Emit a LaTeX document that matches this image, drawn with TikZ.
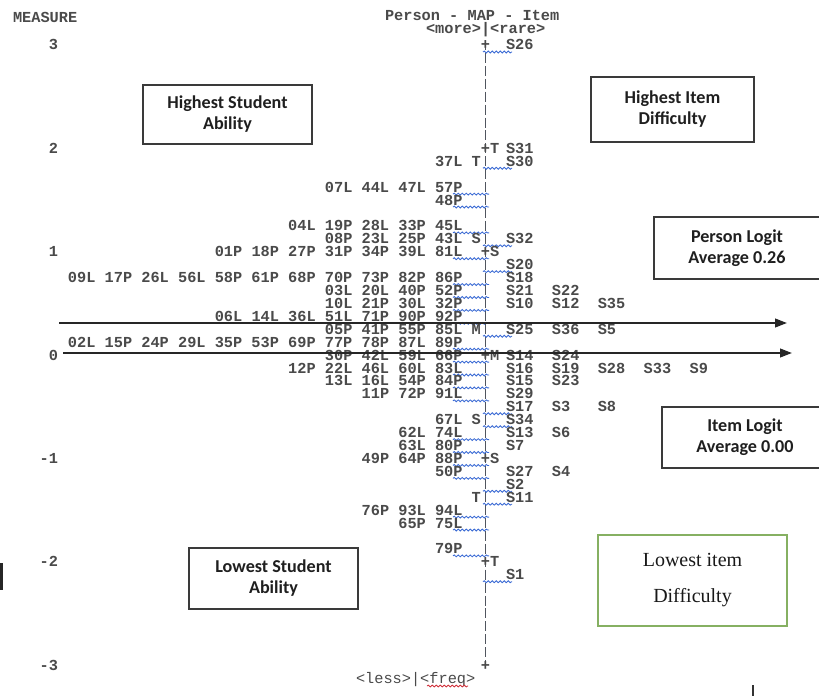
\documentclass[tikz,border=0pt]{standalone}
\usepackage{fontspec}
\setmonofont{Liberation Mono}
\newfontfamily\boxfont{Carlito}
\newfontfamily\serfont{Liberation Serif}
\usetikzlibrary{arrows.meta,decorations.pathmorphing}
\definecolor{txt}{HTML}{4A4A4A}
\definecolor{sqc}{HTML}{3A6AD4}
\definecolor{axc}{HTML}{50555E}
\definecolor{grn}{HTML}{86B062}
\definecolor{boxc}{HTML}{3A3A3A}
\definecolor{redsq}{HTML}{D0303A}

\newcommand\PL[2]{\node[pl] (pl#1) at (462.6,{50+#1*12.92}) {#2};}
\newcommand\ML[2]{\node[mk] (ml#1) at (476.3,{50+#1*12.92}) {#2};}
\newcommand\MR[2]{\node[mk] (mr#1) at (494.7,{50+#1*12.92}) {#2};}
\newcommand\AX[1]{\node[mk] (ax#1) at (485.5,{50+#1*12.92}) {+};}
\newcommand\IT[2]{\foreach \itm [count=\i from 0] in {#2} {\node[it] (it#1-\i) at ({506+\i*45.9},{50+#1*12.92}) {\itm};}}
\newcommand\SQL[1]{\draw[sqs] (453,{52+#1*12.92}) -- (489,{52+#1*12.92});}
\newcommand\SQR[1]{\draw[sqs] (483,{52+#1*12.92}) -- (512,{52+#1*12.92});}

\begin{document}
\begin{tikzpicture}[x=0.75pt,y=-0.75pt,
  mono/.style={font=\ttfamily\bfseries\fontsize{11.47}{12}\selectfont, text=txt, inner sep=0pt, outer sep=0pt},
  pl/.style={mono, anchor=base east},
  it/.style={mono, anchor=base west},
  mk/.style={mono, anchor=base},
  sqs/.style={draw=sqc, line width=0.65pt, decorate, decoration={snake, segment length=3pt, amplitude=0.7pt}},
  labbox/.style={draw=boxc, line width=1.3pt, inner sep=0pt, align=center, text=black!88,
    font=\boxfont\bfseries\fontsize{13.6}{15.7}\selectfont},
  grnbox/.style={draw=grn, line width=0.9pt, inner sep=0pt, align=center, text=black!90,
    font=\serfont\fontsize{15}{27}\selectfont},
  arr/.style={line width=1.5pt, draw=black!85, -{Triangle[length=9pt,width=6.5pt]}}]
\useasboundingbox (0,0) rectangle (819,696);
\clip (0,0) rectangle (819,696);
\fill[white] (0,0) rectangle (819,696);

% header
\node[mono, anchor=base west] (meas) at (13,22) {MEASURE};
\node[mono, anchor=base west] (title) at (385,21) {Person - MAP - Item};
\node[mono, anchor=base west] (more) at (426,33) {<more>|<rare>};
\node[mono, anchor=base west, font=\ttfamily\fontsize{11.47}{12}\selectfont] (less) at (356,683) {<less>|<freq>};
\draw[draw=redsq, line width=0.6pt, decorate, decoration={snake, segment length=3pt, amplitude=0.7pt}] (427,686) -- (468,686);

% measure scale
\foreach \r/\v in {0/3,8/2,16/1,24/0,32/-1,40/-2,48/-3}
  {\node[mono, anchor=base east] (m\r) at (58,{50+\r*12.92}) {\v};}

% axis
\coordinate (atop) at (485.5,45);
\coordinate (abot) at (485.5,665);
\draw[axc, line width=1.3pt, dash pattern=on 7.5pt off 2.19pt, dash phase=3.75pt] (atop) -- (abot);

% rows
\AX{0}\IT{0}{S26}\SQR{0}
\AX{8}\MR{8}{T}\IT{8}{S31}
\PL{9}{37L}\ML{9}{T}\IT{9}{S30}\SQR{9}
\PL{11}{07L 44L 47L 57P}\SQL{11}
\PL{12}{48P}\SQL{12}
\PL{14}{04L 19P 28L 33P 45L}\SQL{14}
\PL{15}{08P 23L 25P 43L}\ML{15}{S}\IT{15}{S32}\SQR{15}
\PL{16}{01P 18P 27P 31P 34P 39L 81L}\AX{16}\MR{16}{S}\SQL{16}
\IT{17}{S20}\SQR{17}
\PL{18}{09L 17P 26L 56L 58P 61P 68P 70P 73P 82P 86P}\IT{18}{S18}\SQL{18}
\PL{19}{03L 20L 40P 52P}\IT{19}{S21,S22}\SQL{19}
\PL{20}{10L 21P 30L 32P}\IT{20}{S10,S12,S35}\SQL{20}
\PL{21}{06L 14L 36L 51L 71P 90P 92P}\SQL{21}
\PL{22}{05P 41P 55P 85L}\ML{22}{M}\IT{22}{S25,S36,S5}\SQR{22}
\PL{23}{02L 15P 24P 29L 35P 53P 69P 77P 78P 87L 89P}\SQL{23}
\PL{24}{30P 42L 59L 66P}\AX{24}\MR{24}{M}\IT{24}{S14,S24}\SQL{24}
\PL{25}{12P 22L 46L 60L 83L}\IT{25}{S16,S19,S28,S33,S9}\SQL{25}
\PL{26}{13L 16L 54P 84P}\IT{26}{S15,S23}\SQL{26}
\PL{27}{11P 72P 91L}\IT{27}{S29}\SQL{27}
\IT{28}{S17,S3,S8}\SQR{28}
\PL{29}{67L}\ML{29}{S}\IT{29}{S34}\SQR{29}
\PL{30}{62L 74L}\IT{30}{S13,S6}\SQL{30}
\PL{31}{63L 80P}\IT{31}{S7}\SQL{31}
\PL{32}{49P 64P 88P}\AX{32}\MR{32}{S}\SQL{32}
\PL{33}{50P}\IT{33}{S27,S4}\SQL{33}
\IT{34}{S2}\SQR{34}
\ML{35}{T}\IT{35}{S11}\SQR{35}
\PL{36}{76P 93L 94L}\SQL{36}
\PL{37}{65P 75L}\SQL{37}
\PL{39}{79P}\SQL{39}
\AX{40}\MR{40}{T}
\IT{41}{S1}\SQR{41}
\AX{48}

% average arrows
\coordinate (pa1) at (59,323);
\coordinate (pa2) at (787,323);
\coordinate (ia1) at (63,353);
\coordinate (ia2) at (792,353);
\draw[arr] (pa1) -- (pa2);
\draw[arr] (ia1) -- (ia2);

% label boxes
\node[labbox, minimum width=126.75pt, minimum height=44.25pt] (hsa) at (227.5,114.5) {Highest Student\\Ability};
\node[labbox, minimum width=122.25pt, minimum height=48.75pt] (hid) at (672.5,109.5) {Highest Item\\Difficulty};
\node[labbox, minimum width=124.5pt, minimum height=46.5pt] (pla) at (737,248) {Person Logit\\Average 0.26};
\node[labbox, minimum width=124.5pt, minimum height=45.75pt] (ila) at (745,437.5) {Item Logit\\Average 0.00};
\node[labbox, minimum width=126.75pt, minimum height=45.75pt] (lsa) at (273.5,578.5) {Lowest Student\\Ability};
\node[grnbox, minimum width=141.75pt, minimum height=68.25pt] (lid) at (692.5,580.5) {Lowest item\\Difficulty};

% stray marks
\fill[black!85] (0,563) rectangle (2.5,590);
\draw[line width=1.5pt, black!80] (753,685) -- (753,696);
\end{tikzpicture}
\end{document}
